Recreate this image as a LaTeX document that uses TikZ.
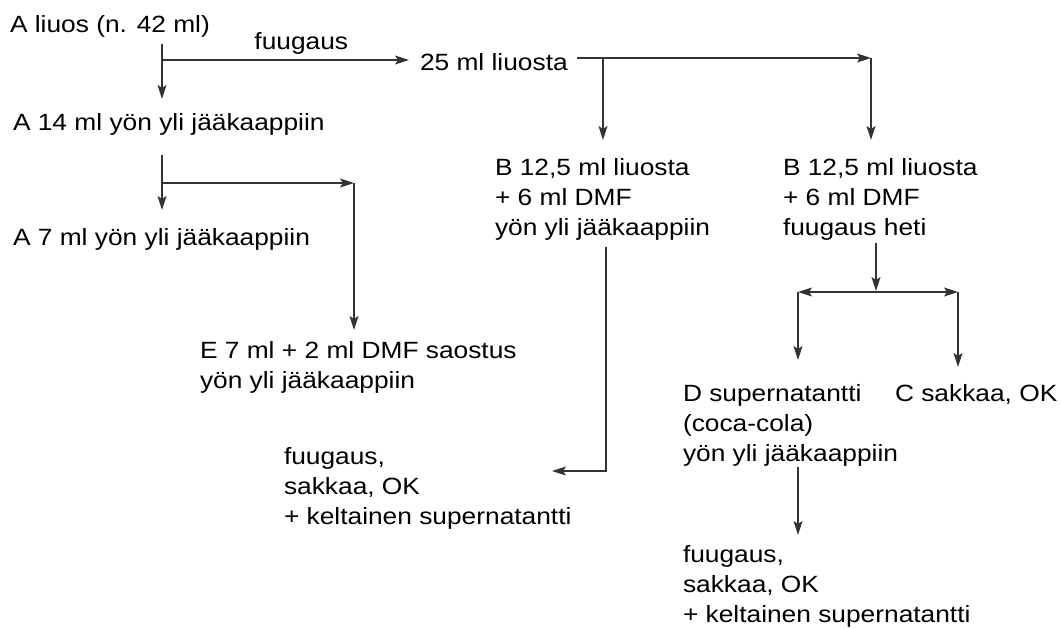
\documentclass[tikz,border=0pt]{standalone}
\usepackage{fontspec}
\setmainfont{Liberation Sans}[FakeStretch=1.12]
\usetikzlibrary{arrows.meta}

\tikzset{
  txt/.style={anchor=base west, inner sep=0pt, outer sep=0pt,
    align=left, font=\fontsize{23.5}{30}\selectfont},
  lbl/.style={inner xsep=0pt, inner ysep=5pt, font=\fontsize{23.5}{30}\selectfont},
  flow/.style={-{Stealth[length=14pt, width=9pt, inset=3pt]}, line width=1.3pt, draw=black!80},
}

\begin{document}
\begin{tikzpicture}[x=1pt, y=-1pt]
  \useasboundingbox (0,0) rectangle (1061,629);

  % samples and steps (anchored on the last baseline)
  \node[txt] (aliuos) at (10,32) {A liuos (n. 42 ml)};
  \node[txt] (liuos25) at (420,70) {25 ml liuosta};
  \node[txt] (a14) at (13,130) {A 14 ml yön yli jääkaappiin};
  \node[txt] (a7) at (13,245) {A 7 ml yön yli jääkaappiin};
  \node[txt] (e7) at (200,388) {E 7 ml + 2 ml DMF saostus\\yön yli jääkaappiin};
  \node[txt] (b1) at (495,235) {B 12,5 ml liuosta\\+ 6 ml DMF\\yön yli jääkaappiin};
  \node[txt] (b2) at (783,235) {B 12,5 ml liuosta\\+ 6 ml DMF\\fuugaus heti};
  \node[txt] (d) at (683,461) {D supernatantti\\(coca-cola)\\yön yli jääkaappiin};
  \node[txt] (c) at (895,401) {C sakkaa, OK};
  \node[txt] (sakka1) at (284,524) {fuugaus,\\sakkaa, OK\\+ keltainen supernatantti};
  \node[txt] (sakka2) at (683,622) {fuugaus,\\sakkaa, OK\\+ keltainen supernatantti};

  % branch points
  \coordinate (ja) at (162,60);
  \coordinate (jb) at (603,58);
  \coordinate (jbr) at (871,58);
  \coordinate (jc) at (162,183);
  \coordinate (jcr) at (354,183);
  \coordinate (jd) at (606,471);
  \coordinate (jdl) at (552,471);
  \coordinate (je) at (876,292);
  \coordinate (jel) at (798,292);
  \coordinate (jer) at (958,292);

  \draw [flow, shorten <=7pt, shorten >=14pt](aliuos.south -| ja)--(a14.north -| ja);
  \draw [flow, shorten >=11pt](ja)--(liuos25.west |- ja) node[lbl, pos=0.54, above] (fuug) {fuugaus};
  \draw [flow, shorten <=9pt](liuos25.east |- jb)--(jbr);
  \draw [flow, shorten >=18pt](jb)--(b1.north -| jb);
  \draw [flow, shorten >=18pt](jbr)--(b2.north -| jbr);

  \draw [flow, shorten <=20pt, shorten >=18pt](a14.south -| jc)--(a7.north -| jc);
  \draw [flow](jc)--(jcr);
  \draw [flow, shorten >=11pt](jcr)--(e7.north -| jcr);

  \draw [flow, shorten <=7pt](b1.south -| jd) |- (jdl);

  \draw [flow, shorten <=3pt, shorten >=1pt](b2.south -| je)--(je);
  \draw [flow](je)--(jel);
  \draw [flow](je)--(jer);
  \draw [flow, shorten >=24pt](jel)--(d.north -| jel);
  \draw [flow, shorten >=17pt](jer)--(c.north -| jer);
  \draw [flow, shorten <=1pt, shorten >=10pt](d.south -| jel)--(sakka2.north -| jel);

\end{tikzpicture}
\end{document}
